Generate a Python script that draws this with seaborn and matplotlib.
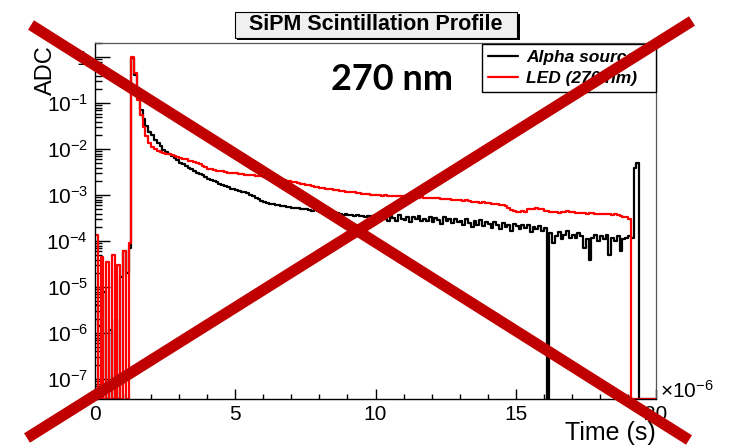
import numpy as np
import pandas as pd
import matplotlib
matplotlib.use("Agg")
import matplotlib.pyplot as plt
import matplotlib.ticker as mticker
from matplotlib.lines import Line2D
from matplotlib.patches import Rectangle
import seaborn as sns

# ---------------- data ----------------
series_names = ["Alpha source", "LED (270 nm)"]
series_colors = ["#000000", "#FF0000"]
bin_width_us = 0.1
n_bins = 200
x_tick_values = [0, 5, 10, 15, 20]
x_multiplier_label = r"$\times10^{-6}$"

alpha_adc = [
    4.0e-6, 1.4e-6, 0, 8.0e-6, 0, 1.2e-6, 0, 2.0e-6, 0, 1.7e-5,
    6.0e-5, 2.0e-5, 7.0e-5, 0.95, 0.42, 0.13, 0.07, 0.045, 0.032, 0.024,
    0.020, 0.016, 0.0135, 0.0115, 0.0098, 0.0088, 0.0079, 0.0071, 0.0064, 0.0058,
    0.0051, 0.0047, 0.0043, 0.0040, 0.0037, 0.0034, 0.0031, 0.0029, 0.0027, 0.0025,
    0.0023, 0.0021, 0.0020, 0.0019, 0.0018, 0.0017, 0.0016, 0.0015, 0.0014, 0.00135,
    0.0013, 0.00125, 0.0012, 0.00115, 0.0011, 0.00102, 0.00095, 0.00088, 0.00081, 0.00075,
    7.0e-4, 6.8e-4, 6.5e-4, 6.4e-4, 6.2e-4, 6.0e-4, 5.9e-4, 5.7e-4, 5.6e-4, 5.5e-4,
    5.4e-4, 5.2e-4, 5.3e-4, 5.0e-4, 4.9e-4, 5.0e-4, 4.7e-4, 4.6e-4, 4.7e-4, 4.5e-4,
    4.4e-4, 4.5e-4, 4.2e-4, 4.3e-4, 4.1e-4, 4.0e-4, 4.2e-4, 3.9e-4, 3.8e-4, 4.0e-4,
    3.7e-4, 3.8e-4, 3.6e-4, 3.7e-4, 3.5e-4, 3.6e-4, 3.4e-4, 3.6e-4, 3.5e-4, 3.3e-4,
    3.4e-4, 2.9e-4, 3.6e-4, 3.1e-4, 2.7e-4, 3.5e-4, 3.2e-4, 2.8e-4, 3.7e-4, 3.0e-4,
    2.9e-4, 3.4e-4, 2.6e-4, 3.3e-4, 3.0e-4, 3.6e-4, 2.7e-4, 3.1e-4, 2.8e-4, 3.4e-4,
    2.6e-4, 3.2e-4, 2.9e-4, 2.4e-4, 3.3e-4, 2.7e-4, 3.0e-4, 2.5e-4, 3.1e-4, 2.6e-4,
    2.8e-4, 2.2e-4, 3.0e-4, 2.5e-4, 2.0e-4, 2.7e-4, 2.3e-4, 2.9e-4, 2.1e-4, 2.6e-4,
    2.4e-4, 1.9e-4, 2.6e-4, 2.2e-4, 1.8e-4, 2.5e-4, 2.0e-4, 2.3e-4, 1.7e-4, 2.4e-4,
    2.1e-4, 1.8e-4, 2.3e-4, 1.9e-4, 2.2e-4, 1.6e-4, 2.0e-4, 1.8e-4, 2.1e-4, 1.7e-4,
    1.9e-4, 0, 1.5e-4, 9.0e-5, 1.3e-4, 1.6e-4, 1.1e-4, 1.4e-4, 1.7e-4, 1.2e-4,
    1.4e-4, 1.2e-4, 1.5e-4, 1.3e-4, 7.0e-5, 1.1e-4, 4.0e-5, 1.2e-4, 1.4e-4, 1.0e-4,
    1.3e-4, 1.1e-4, 1.4e-4, 5.0e-5, 1.2e-4, 1.0e-4, 1.3e-4, 6.0e-5, 1.1e-4, 1.2e-4,
    1.3e-4, 1.2e-4, 4.0e-3, 5.0e-3, 0, 0, 0, 0, 0, 0,
]

led_adc = [
    1.4e-4, 0, 4.5e-5, 0, 3.5e-5, 0, 5.0e-5, 0, 3.0e-5, 0,
    6.0e-5, 0, 9.0e-5, 1.0, 0.45, 0.12, 0.055, 0.030, 0.019, 0.014,
    0.0112, 0.0100, 0.0093, 0.0088, 0.0083, 0.0080, 0.0077, 0.0074, 0.0071, 0.0068,
    0.0065, 0.0062, 0.0060, 0.0057, 0.0055, 0.0052, 0.0050, 0.0047, 0.0044, 0.0041,
    0.0038, 0.0037, 0.0035, 0.0034, 0.0034, 0.0033, 0.0032, 0.0031, 0.0031, 0.0030,
    0.0030, 0.0029, 0.0029, 0.0028, 0.0028, 0.0027, 0.0027, 0.0026, 0.0026, 0.0026,
    2.5e-3, 2.4e-3, 2.4e-3, 2.3e-3, 2.2e-3, 2.2e-3, 2.1e-3, 2.1e-3, 2.0e-3, 2.0e-3,
    1.9e-3, 1.9e-3, 1.85e-3, 1.8e-3, 1.75e-3, 1.7e-3, 1.65e-3, 1.6e-3, 1.55e-3, 1.5e-3,
    1.45e-3, 1.45e-3, 1.4e-3, 1.35e-3, 1.35e-3, 1.3e-3, 1.3e-3, 1.25e-3, 1.25e-3, 1.2e-3,
    1.2e-3, 1.15e-3, 1.15e-3, 1.1e-3, 1.1e-3, 1.08e-3, 1.05e-3, 1.05e-3, 1.02e-3, 1.0e-3,
    1.0e-3, 1.0e-3, 9.7e-4, 9.9e-4, 9.6e-4, 9.8e-4, 9.5e-4, 9.7e-4, 9.4e-4, 9.6e-4,
    9.5e-4, 9.3e-4, 9.4e-4, 9.1e-4, 9.2e-4, 8.9e-4, 9.0e-4, 8.8e-4, 8.9e-4, 8.7e-4,
    8.7e-4, 8.5e-4, 8.6e-4, 8.3e-4, 8.4e-4, 8.1e-4, 8.2e-4, 8.0e-4, 7.9e-4, 8.0e-4,
    7.8e-4, 7.6e-4, 7.7e-4, 7.4e-4, 7.2e-4, 7.3e-4, 7.0e-4, 6.9e-4, 7.0e-4, 6.8e-4,
    6.7e-4, 6.6e-4, 6.5e-4, 6.3e-4, 6.1e-4, 6.0e-4, 5.7e-4, 5.4e-4, 4.8e-4, 4.6e-4,
    4.4e-4, 4.4e-4, 4.5e-4, 4.4e-4, 4.9e-4, 5.1e-4, 5.0e-4, 5.2e-4, 4.9e-4, 5.0e-4,
    4.6e-4, 4.5e-4, 4.4e-4, 4.3e-4, 4.4e-4, 4.2e-4, 4.3e-4, 4.4e-4, 4.5e-4, 4.3e-4,
    4.3e-4, 4.2e-4, 4.1e-4, 4.2e-4, 4.1e-4, 4.0e-4, 4.1e-4, 4.2e-4, 4.0e-4, 4.0e-4,
    4.0e-4, 3.9e-4, 4.0e-4, 3.9e-4, 3.8e-4, 3.9e-4, 3.8e-4, 3.5e-4, 3.4e-4, 3.4e-4,
    3.1e-4, 0, 0, 0, 0, 0, 0, 0, 0, 0,
]

# ---------------- style ----------------
sns.set_style("white")
plt.rcParams["font.family"] = ["Liberation Sans", "DejaVu Sans"]
plt.rcParams["mathtext.fontset"] = "custom"
plt.rcParams["mathtext.rm"] = "Liberation Sans"
plt.rcParams["mathtext.it"] = "Liberation Sans:italic"
plt.rcParams["mathtext.bf"] = "Liberation Sans:bold"
for k in ["text.color", "axes.labelcolor", "xtick.color", "ytick.color", "axes.edgecolor"]:
    plt.rcParams[k] = "black"

W, H = 743, 446
Y_MIN, Y_MAX = 3.7e-8, 2.05

# step-histogram table: bin edges + repeated last value
edges = np.round(np.arange(n_bins + 1) * bin_width_us, 2)
frames = []
for name, vals in zip(series_names, [alpha_adc, led_adc]):
    v = np.array(list(vals) + [vals[-1]], dtype=float)
    v = np.where(v > 0, v, Y_MIN)   # empty bins drawn on the floor, as ROOT does
    frames.append(pd.DataFrame({"time": edges, "adc": v, "source": name}))
df = pd.concat(frames, ignore_index=True)

fig = plt.figure(figsize=(W / 100, H / 100), dpi=100)
fig.patch.set_facecolor("white")
ax = fig.add_axes([95 / W, 1 - 399 / H, (656 - 95) / W, (399 - 43) / H])

sns.lineplot(data=df, x="time", y="adc", hue="source", hue_order=series_names,
             palette=dict(zip(series_names, series_colors)), estimator=None,
             drawstyle="steps-post", lw=1.6, ax=ax)

ax.set_yscale("log")
ax.set_xlim(0, 20)
ax.set_ylim(Y_MIN, Y_MAX)

# ticks
ax.xaxis.set_major_locator(mticker.FixedLocator(x_tick_values))
ax.xaxis.set_minor_locator(mticker.MultipleLocator(1))
ax.yaxis.set_major_locator(mticker.LogLocator(base=10, numticks=20))
ax.yaxis.set_minor_locator(mticker.LogLocator(base=10, subs=np.arange(2, 10), numticks=20))
ax.yaxis.set_minor_formatter(mticker.NullFormatter())

def yfmt(v, pos):
    e = int(round(np.log10(v)))
    return "1" if e == 0 else r"$10^{%d}$" % e

ax.yaxis.set_major_formatter(mticker.FuncFormatter(yfmt))
ax.tick_params(axis="both", which="both", direction="in", top=False, right=False,
               bottom=True, left=True, color="black", labelcolor="black")
ax.tick_params(axis="y", which="major", length=10.8, width=1, labelsize=15, pad=5)
ax.tick_params(axis="y", which="minor", length=5, width=1)
ax.tick_params(axis="x", which="major", length=7.2, width=1, labelsize=15, pad=4)
ax.tick_params(axis="x", which="minor", length=3.6, width=1)

for s in ["left", "bottom"]:
    ax.spines[s].set_color("black")
    ax.spines[s].set_linewidth(1.0)
for s in ["top", "right"]:
    ax.spines[s].set_color("#555555")
    ax.spines[s].set_linewidth(0.9)

# axis titles
ax.set_xlabel("Time (s)", fontsize=18, loc="right", color="black")
ax.xaxis.label.set_va("baseline")
ax.xaxis.set_label_coords(1.0, (399 - 440) / (399 - 43))
ax.set_ylabel("ADC", fontsize=17, loc="top", color="black")
ax.yaxis.set_label_coords((57 - 95) / (656 - 95), (399 - 45) / (399 - 43))

fig.text(660 / W, 1 - 398 / H, x_multiplier_label, fontsize=15, ha="left", va="baseline",
         color="black")

# legend
sns.move_legend(ax, "upper right",
                bbox_to_anchor=(482 / W, 1 - 92 / H, (656 - 482) / W, (92 - 44) / H),
                bbox_transform=fig.transFigure, mode="expand", title=None,
                frameon=True, fancybox=False, framealpha=1, edgecolor="black",
                borderaxespad=0, borderpad=0.35, handlelength=1.75, handletextpad=0.45,
                labelspacing=0.3, labelcolor="black",
                prop=dict(family="Liberation Sans", weight="bold", style="italic", size=12.5))
ax.get_legend().get_frame().set_linewidth(1.0)

# in-plot annotation
fig.text(392 / W, 1 - 80 / H, "270 nm", ha="center", va="center", color="black",
         fontsize=26, fontweight="bold", family=["Lato", "DejaVu Sans"])

# title box with shadow (ROOT style)
bx0, bx1, by0, by1 = 235, 517, 11.5, 37.5
sh = 2.5
fig.add_artist(Rectangle(((bx0 + sh) / W, 1 - (by1 + sh) / H), (bx1 - bx0) / W, (by1 - by0) / H,
                         transform=fig.transFigure, facecolor="black", edgecolor="none", zorder=5))
fig.add_artist(Rectangle((bx0 / W, 1 - by1 / H), (bx1 - bx0) / W, (by1 - by0) / H,
                         transform=fig.transFigure, facecolor="#F0F0F0", edgecolor="black",
                         lw=0.8, zorder=6))
fig.text((bx0 + bx1) / 2 / W, 1 - (by0 + by1) / 2 / H, "SiPM Scintillation Profile",
         ha="center", va="center", fontsize=15.5, fontweight="bold", color="black", zorder=7)

# big red cross overlay
for (x0, y0, x1, y1) in [(31, 25, 689, 440), (692, 21, 27, 438)]:
    fig.add_artist(Line2D([x0 / W, x1 / W], [1 - y0 / H, 1 - y1 / H], transform=fig.transFigure,
                          color="#C00000", lw=8, solid_capstyle="butt", zorder=20))

fig.savefig("out.png", dpi=100, facecolor="white")
